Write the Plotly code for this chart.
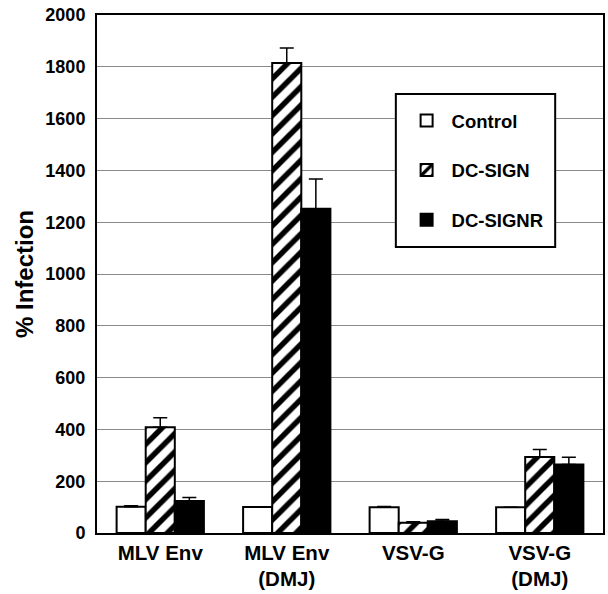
import plotly.graph_objects as go

categories = ["MLV Env", "MLV Env<br>(DMJ)", "VSV-G", "VSV-G<br>(DMJ)"]
series_names = ["Control", "DC-SIGN", "DC-SIGNR"]
control_vals = [101, 100, 99, 99]
control_err = [4, 0, 3, 0]
dcsign_vals = [408, 1815, 40, 293]
dcsign_err = [37, 58, 3, 29]
dcsignr_vals = [124, 1252, 45, 264]
dcsignr_err = [13, 115, 7, 28]
y_ticks = [0, 200, 400, 600, 800, 1000, 1200, 1400, 1600, 1800, 2000]

FONT = "Liberation Sans, Arial, sans-serif"

def err(vals):
    return dict(type="data", array=vals, arrayminus=[0] * len(vals),
                symmetric=False, color="black",
                thickness=1.5, width=7, visible=True)

fig = go.Figure()
fig.add_trace(go.Bar(
    name=series_names[0], x=categories, y=control_vals, error_y=err(control_err),
    marker=dict(color="white", line=dict(color="black", width=2)),
    legendgroup="a"))
fig.add_trace(go.Bar(
    name=series_names[1], x=categories, y=dcsign_vals, error_y=err(dcsign_err),
    marker=dict(color="white", line=dict(color="black", width=2),
                pattern=dict(shape="/", fgcolor="black", bgcolor="white",
                             size=13, solidity=0.42, fillmode="replace")),
    legendgroup="b"))
fig.add_trace(go.Bar(
    name=series_names[2], x=categories, y=dcsignr_vals, error_y=err(dcsignr_err),
    marker=dict(color="black", line=dict(color="black", width=2)),
    legendgroup="c"))

# legend frame (decoration)
fig.add_shape(type="rect", xref="paper", yref="paper",
              x0=0.5906, x1=0.9055, y0=0.552, y1=0.8475,
              line=dict(color="black", width=2), fillcolor="white", layer="above")

fig.update_layout(
    width=608, height=594,
    margin=dict(l=97, r=3, t=15, b=61),
    paper_bgcolor="white", plot_bgcolor="white",
    barmode="group", bargap=0.31, bargroupgap=0,
    font=dict(family=FONT, color="black"),
    showlegend=True,
    legend=dict(
        x=0.602, y=0.832, xanchor="left", yanchor="top",
        borderwidth=0, bgcolor="rgba(0,0,0,0)",
        font=dict(size=18.5, family=FONT, color="black", weight="bold"),
        tracegroupgap=22.5, traceorder="grouped",
        itemwidth=40,
    ),
    xaxis=dict(
        showline=True, linecolor="black", linewidth=2, mirror=True,
        showgrid=False, ticks="",
        tickfont=dict(size=20.5, family=FONT, color="black", weight="bold"),
        range=[-0.5, 3.5],
    ),
    yaxis=dict(
        range=[0, 2000], tickvals=y_ticks,
        showline=True, linecolor="black", linewidth=2, mirror=True,
        showgrid=True, gridcolor="#8a8a8a", gridwidth=1,
        zeroline=False, ticks="", ticklabelstandoff=6,
        tickfont=dict(size=18, family=FONT, color="black", weight="bold"),
        title=dict(text="% Infection", standoff=5,
                   font=dict(size=24, family=FONT, color="black", weight="bold")),
    ),
)

fig.write_html("out.html", config={"displayModeBar": False},
               post_script="document.body.style.margin='0';")
